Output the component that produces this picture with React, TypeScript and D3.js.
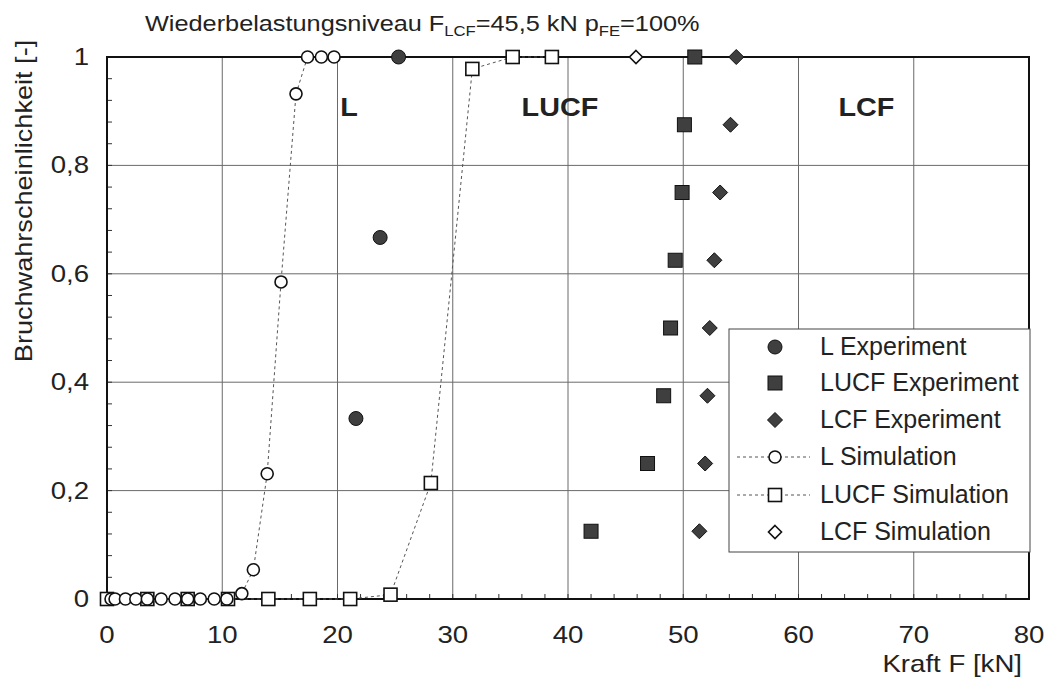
import React from "react";
import * as d3 from "d3";

const xTicks = [0, 10, 20, 30, 40, 50, 60, 70, 80];
const yTicks = [0, 0.2, 0.4, 0.6, 0.8, 1];
const yTickLabels = ["0", "0,2", "0,4", "0,6", "0,8", "1"];

const lExpF = [21.6, 23.7, 25.3];
const lExpP = [0.333, 0.667, 1.0];

const lucfExpF = [42.0, 46.9, 48.3, 48.9, 49.3, 49.9, 50.1, 51.0];
const lucfExpP = [0.125, 0.25, 0.375, 0.5, 0.625, 0.75, 0.875, 1.0];

const lcfExpF = [51.4, 51.9, 52.1, 52.3, 52.7, 53.2, 54.1, 54.6];
const lcfExpP = [0.125, 0.25, 0.375, 0.5, 0.625, 0.75, 0.875, 1.0];

const lSimF = [0.35, 0.7, 1.6, 2.5, 3.5, 4.7, 5.9, 7.0, 8.1, 9.3, 10.4, 11.7, 12.7, 13.9, 15.1, 16.4, 17.4, 18.6, 19.7];
const lSimP = [0, 0, 0, 0, 0, 0, 0, 0, 0, 0, 0, 0.01, 0.054, 0.231, 0.585, 0.932, 1, 1, 1];

const lucfSimF = [0, 3.5, 7.0, 10.5, 14.0, 17.6, 21.1, 24.6, 28.1, 31.7, 35.2, 38.6];
const lucfSimP = [0, 0, 0, 0, 0, 0, 0, 0.008, 0.214, 0.978, 1, 1];

const lcfSimF = [45.9];
const lcfSimP = [1];

const legendLabels = ["L Experiment", "LUCF Experiment", "LCF Experiment", "L Simulation", "LUCF Simulation", "LCF Simulation"];
const regionLabels = ["L", "LUCF", "LCF"];
const regionF = [21.0, 39.3, 65.9];

const FONT = "'Liberation Sans', Arial, Helvetica, sans-serif";
const FILL = "#3f3f3f";
const SX = 1.15;

type Kind = "circle" | "square" | "diamond";

function Marker({ kind, cx, cy, filled }: { kind: Kind; cx: number; cy: number; filled: boolean }) {
  const fill = filled ? FILL : "white";
  const stroke = "#111";
  const sw = filled ? 1 : 1.6;
  if (kind === "circle") {
    const r = filled ? 7 : 6;
    return <circle cx={cx} cy={cy} r={r} fill={fill} stroke={stroke} strokeWidth={sw} />;
  }
  if (kind === "square") {
    const h = filled ? 7 : 6.5;
    return <rect x={cx - h} y={cy - h} width={2 * h} height={2 * h} fill={fill} stroke={stroke} strokeWidth={sw} />;
  }
  const d = filled ? 7.5 : 6.5;
  return (
    <path
      d={`M${cx},${cy - d}L${cx + d},${cy}L${cx},${cy + d}L${cx - d},${cy}Z`}
      fill={fill}
      stroke={stroke}
      strokeWidth={sw}
    />
  );
}

function T({ x, y, size, anchor, bold, rotate, children }: any) {
  const tr = rotate
    ? `translate(${x},${y}) rotate(${rotate}) scale(${SX},1)`
    : `translate(${x},${y}) scale(${SX},1)`;
  return (
    <text transform={tr} fontSize={size} textAnchor={anchor || "start"} fontWeight={bold ? "bold" : "normal"} fill="#222">
      {children}
    </text>
  );
}

export default function App() {
  const W = 1052;
  const H = 684;
  const x = d3.scaleLinear().domain([0, 80]).range([107, 1029]);
  const y = d3.scaleLinear().domain([0, 1]).range([599, 57]);

  const line = d3
    .line<[number, number]>()
    .x((d) => x(d[0]))
    .y((d) => y(d[1]));

  const lSimPts: [number, number][] = lSimF.map((f, i) => [f, lSimP[i]]);
  const lucfSimPts: [number, number][] = lucfSimF.map((f, i) => [f, lucfSimP[i]]);

  const xMinor = d3.range(0, 80.01, 2);
  const yMinor = d3.range(0, 1.001, 0.04);

  const legendX = 729;
  const legendY = 329;
  const legendW = 301;
  const legendH = 223;
  const rowY = [347, 383, 420, 457, 495, 532];
  const legendKinds: Kind[] = ["circle", "square", "diamond", "circle", "square", "diamond"];
  const legendFilled = [true, true, true, false, false, false];

  return (
    <svg
      width={W}
      height={H}
      style={{ position: "absolute", left: 0, top: 0, background: "white" }}
      fontFamily={FONT}
    >
      <rect width={W} height={H} fill="white" />
      {/* title */}
      <T x={145} y={31} size={22}>
        Wiederbelastungsniveau F
        <tspan fontSize={14.5} dy={5}>LCF</tspan>
        <tspan dy={-5}>=45,5 kN p</tspan>
        <tspan fontSize={14.5} dy={5}>FE</tspan>
        <tspan dy={-5}>=100%</tspan>
      </T>

      {/* grid */}
      {xTicks.slice(1, -1).map((t) => (
        <line key={"gx" + t} x1={x(t)} x2={x(t)} y1={y(0)} y2={y(1)} stroke="#6a6a6a" strokeWidth={1} />
      ))}
      {yTicks.slice(1, -1).map((t) => (
        <line key={"gy" + t} x1={x(0)} x2={x(80)} y1={y(t)} y2={y(t)} stroke="#6a6a6a" strokeWidth={1} />
      ))}

      {/* minor ticks */}
      {xMinor.map((t) => (
        <line key={"mx" + t} x1={x(t)} x2={x(t)} y1={y(0)} y2={y(0) - 5} stroke="#333" strokeWidth={1} />
      ))}
      {yMinor.map((t) => (
        <line key={"my" + t} x1={x(0)} x2={x(0) + 5} y1={y(t)} y2={y(t)} stroke="#333" strokeWidth={1} />
      ))}

      {/* plot frame */}
      <rect x={x(0)} y={y(1)} width={x(80) - x(0)} height={y(0) - y(1)} fill="none" stroke="#111" strokeWidth={2} />

      {/* tick labels */}
      {xTicks.map((t) => (
        <T key={"xl" + t} x={x(t)} y={643} size={24} anchor="middle">
          {t}
        </T>
      ))}
      {yTicks.map((t, i) => (
        <T key={"yl" + t} x={89} y={y(t) + 8} size={24} anchor="end">
          {yTickLabels[i]}
        </T>
      ))}

      {/* axis titles */}
      <T x={1022} y={672} size={24} anchor="end">
        Kraft F [kN]
      </T>
      <text transform="translate(32,201) rotate(-90) scale(1.13,1)" fontSize={24} textAnchor="middle" fill="#222">
        Bruchwahrscheinlichkeit [-]
      </text>

      {/* region labels */}
      {regionLabels.map((r, i) => (
        <T key={r} x={x(regionF[i])} y={116} size={25} anchor="middle" bold>
          {r}
        </T>
      ))}

      {/* simulation lines */}
      <path d={line(lSimPts) || ""} fill="none" stroke="#555" strokeWidth={1} strokeDasharray="3,3" />
      <path d={line(lucfSimPts) || ""} fill="none" stroke="#555" strokeWidth={1} strokeDasharray="3,3" />

      {/* simulation markers */}
      {lucfSimF.map((f, i) => (
        <Marker key={"us" + i} kind="square" cx={x(f)} cy={y(lucfSimP[i])} filled={false} />
      ))}
      {lSimF.map((f, i) => (
        <Marker key={"ls" + i} kind="circle" cx={x(f)} cy={y(lSimP[i])} filled={false} />
      ))}
      {lcfSimF.map((f, i) => (
        <Marker key={"cs" + i} kind="diamond" cx={x(f)} cy={y(lcfSimP[i])} filled={false} />
      ))}

      {/* experiment markers */}
      {lExpF.map((f, i) => (
        <Marker key={"le" + i} kind="circle" cx={x(f)} cy={y(lExpP[i])} filled />
      ))}
      {lucfExpF.map((f, i) => (
        <Marker key={"ue" + i} kind="square" cx={x(f)} cy={y(lucfExpP[i])} filled />
      ))}
      {lcfExpF.map((f, i) => (
        <Marker key={"ce" + i} kind="diamond" cx={x(f)} cy={y(lcfExpP[i])} filled />
      ))}

      {/* legend */}
      <rect x={legendX} y={legendY} width={legendW} height={legendH} fill="white" stroke="#444" strokeWidth={1} />
      {legendLabels.map((lab, i) => (
        <g key={lab}>
          {!legendFilled[i] && legendKinds[i] !== "diamond" && (
            <line x1={737} x2={810} y1={rowY[i]} y2={rowY[i]} stroke="#555" strokeWidth={1} strokeDasharray="3,3" />
          )}
          <Marker kind={legendKinds[i]} cx={775} cy={rowY[i]} filled={legendFilled[i]} />
          <text x={820} y={rowY[i] + 8} fontSize={25} fill="#222">
            {lab}
          </text>
        </g>
      ))}
    </svg>
  );
}
